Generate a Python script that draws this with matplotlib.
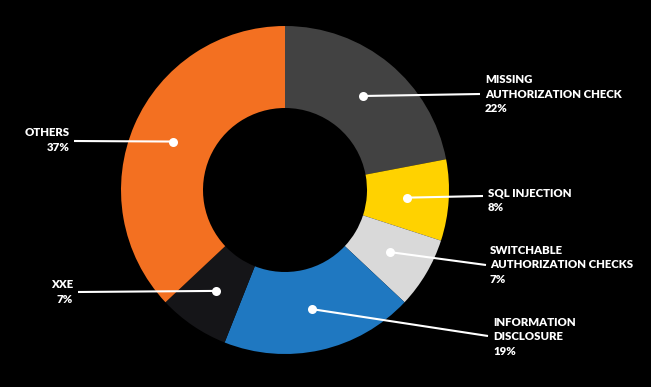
import matplotlib.pyplot as plt
import numpy as np

labels = ["MISSING\nAUTHORIZATION CHECK", "SQL INJECTION", "SWITCHABLE\nAUTHORIZATION CHECKS",
          "INFORMATION\nDISCLOSURE", "XXE", "OTHERS"]
values = [22, 8, 7, 19, 7, 37]
colors = ["#424242", "#FFD200", "#D9D9D9", "#1F78C1", "#151518", "#F37021"]

# label anchors (pixels from top-left) and text alignment
text_pos = [(485, 94), (488, 200), (490, 265), (493, 337), (73, 292), (70, 140)]
line_end = [(480, 94), (483, 196), (486, 265), (488, 336), (78, 292), (74, 141)]
ha = ["left", "left", "left", "left", "right", "right"]

W, H = 651, 387
cx, cy, R = 285, 190, 164

fig = plt.figure(figsize=(6.51, 3.87), dpi=100, facecolor="black")
ax = fig.add_axes([0, 0, 1, 1])
ax.set_facecolor("black")
ax.axis("off")

wedges, _ = ax.pie(values, colors=colors, startangle=90, counterclock=False,
                   center=(cx, H - cy), radius=R,
                   wedgeprops=dict(width=R * 0.5, linewidth=0))
ax.set_xlim(0, W)
ax.set_ylim(0, H)
ax.set_aspect("equal")

for w, lab, v, tp, le, h in zip(wedges, labels, values, text_pos, line_end, ha):
    mid = np.deg2rad((w.theta1 + w.theta2) / 2)
    dx = cx + 122 * np.cos(mid)
    dy = (H - cy) + 122 * np.sin(mid)
    ax.plot([dx, le[0]], [dy, H - le[1]], color="white", lw=1.5, solid_capstyle="butt")
    ax.plot(dx, dy, "o", color="white", ms=6.5, mec="none")
    ax.text(tp[0], H - tp[1], f"{lab}\n{v}%", color="white", ha=h, va="center",
            fontsize=8.2, fontweight="heavy", family="Lato", linespacing=1.42,
            multialignment=h)

fig.savefig("out.png", dpi=100, facecolor="black")
